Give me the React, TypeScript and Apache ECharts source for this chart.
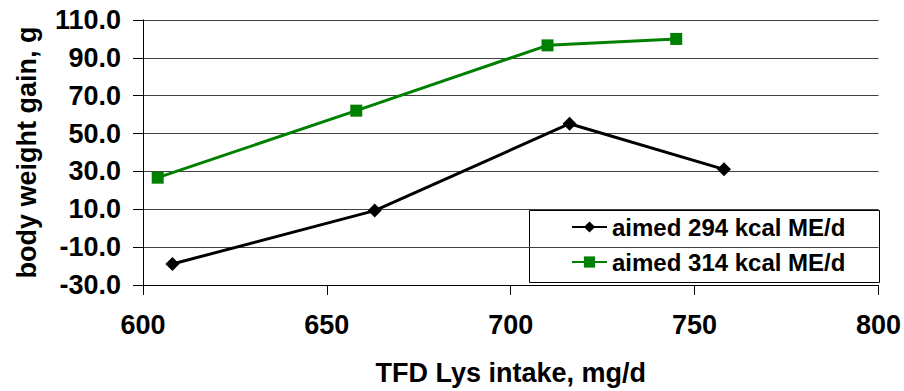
import React, { useEffect, useRef } from "react";
import * as echarts from "echarts";

const seriesNames = ["aimed 294 kcal ME/d", "aimed 314 kcal ME/d"];
const lysIntake294 = [608, 663, 716, 758];
const gain294 = [-18.9, 9.3, 55.2, 31.1];
const lysIntake314 = [604, 658, 710, 745];
const gain314 = [26.7, 62.1, 96.6, 100.0];
const xTicks = { min: 600, max: 800, interval: 50 };
const yTicks = { min: -30, max: 110, interval: 20 };

const FONT = "'Liberation Sans', Arial, sans-serif";

export default function App() {
  const ref = useRef<HTMLDivElement>(null);
  useEffect(() => {
    if (!ref.current) return;
    const chart = echarts.init(ref.current, null, { renderer: "svg" });
    const pts = (xs: number[], ys: number[]) => xs.map((x, i) => [x, ys[i]]);
    chart.setOption({
      animation: false,
      backgroundColor: "#ffffff",
      textStyle: { fontFamily: FONT },
      grid: { left: 143, right: 25, top: 20, bottom: 106 },
      xAxis: {
        type: "value",
        min: xTicks.min,
        max: xTicks.max,
        interval: xTicks.interval,
        name: "TFD Lys intake, mg/d",
        nameLocation: "middle",
        nameGap: 74,
        nameTextStyle: { fontFamily: FONT, fontWeight: "bold", fontSize: 27, color: "#000" },
        axisLine: { show: true, onZero: false, lineStyle: { color: "#000", width: 1 } },
        axisTick: { show: true, length: 10, lineStyle: { color: "#000" } },
        axisLabel: { margin: 26, fontFamily: FONT, fontWeight: "bold", fontSize: 27, color: "#000" },
        splitLine: { show: false },
      },
      yAxis: {
        type: "value",
        min: yTicks.min,
        max: yTicks.max,
        interval: yTicks.interval,
        name: "body weight gain, g",
        nameLocation: "middle",
        nameGap: 103,
        nameTextStyle: { fontFamily: FONT, fontWeight: "bold", fontSize: 27, color: "#000" },
        axisLine: { show: true, onZero: false, lineStyle: { color: "#000", width: 1 } },
        axisTick: { show: true, length: 10, lineStyle: { color: "#000" } },
        axisLabel: {
          margin: 22,
          fontFamily: FONT,
          fontWeight: "bold",
          fontSize: 27,
          color: "#000",
          formatter: (v: number) => v.toFixed(1),
        },
        splitLine: { show: true, lineStyle: { color: "#404040", width: 1 } },
      },
      legend: {
        orient: "vertical",
        left: 571,
        top: 215,
        padding: 0,
        itemGap: 11,
        itemWidth: 35,
        itemHeight: 14,
        textStyle: { fontFamily: FONT, fontWeight: "bold", fontSize: 24, color: "#000", lineHeight: 24 },
        data: seriesNames,
      },
      graphic: [
        {
          type: "rect",
          left: 527,
          top: 208,
          shape: { width: 350, height: 72 },
          style: { fill: "none", stroke: "#000", lineWidth: 1 },
          silent: true,
        },
      ],
      series: [
        {
          name: seriesNames[0],
          type: "line",
          data: pts(lysIntake294, gain294),
          symbol: "diamond",
          symbolSize: 14,
          lineStyle: { color: "#000", width: 3 },
          itemStyle: { color: "#000" },
        },
        {
          name: seriesNames[1],
          type: "line",
          data: pts(lysIntake314, gain314),
          symbol: "rect",
          symbolSize: 12,
          lineStyle: { color: "#008000", width: 3 },
          itemStyle: { color: "#008000" },
        },
      ],
    });
    return () => chart.dispose();
  }, []);
  return (
    <div
      ref={ref}
      style={{ position: "absolute", left: 0, top: 0, width: 904, height: 391 }}
    />
  );
}
